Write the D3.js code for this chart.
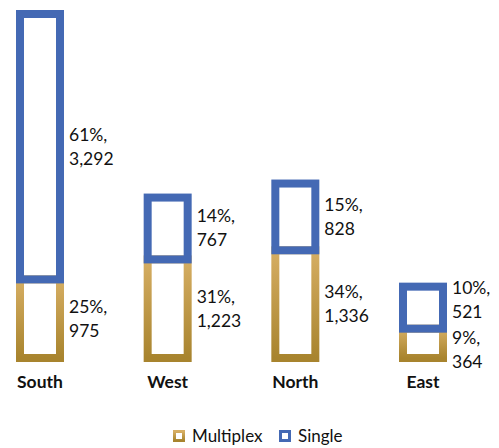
<!DOCTYPE html>
<html>
<head>
<meta charset="utf-8">
<script src="https://cdn.jsdelivr.net/npm/d3@7"></script>
<style>
  body { margin: 0; background: #fff; }
  text { font-family: "Lato", "DejaVu Sans", sans-serif; fill: #111; }
</style>
</head>
<body>
<script>
const regions = ["South", "West", "North", "East"]
const multiplex = [975, 1223, 1336, 364]
const single = [3292, 767, 828, 521]
const multiplexPct = ["25%", "31%", "34%", "9%"]
const singlePct = ["61%", "14%", "15%", "10%"]
const seriesNames = ["Multiplex", "Single"]

const width = 499
const height = 448
const blue = "#4469b4"
const stroke = 8
const barW = 40
const lineH = 24

const svg = d3.select("body").append("svg")
    .attr("width", width)
    .attr("height", height)

const grad = svg.append("defs").append("linearGradient")
    .attr("id", "gold")
    .attr("x1", 0).attr("y1", 0).attr("x2", 0).attr("y2", 1)
grad.append("stop").attr("offset", "0%").attr("stop-color", "#d6ae63")
grad.append("stop").attr("offset", "100%").attr("stop-color", "#a8842e")

const totals = regions.map((r, i) => multiplex[i] + single[i])

const x = d3.scalePoint()
    .domain(regions)
    .range([40, 423])

const y = d3.scaleLinear()
    .domain([0, d3.max(totals)])
    .range([358, 14])

const fmt = d3.format(",")

const data = regions.map((r, i) => ({
    region: r,
    m: multiplex[i], s: single[i],
    mp: multiplexPct[i], sp: singlePct[i]
}))

// multiplex first, single stacked on top
svg.append("g")
  .selectAll("rect")
  .data(data)
  .join("rect")
    .attr("x", d => x(d.region) - barW / 2)
    .attr("y", d => y(d.m))
    .attr("width", barW)
    .attr("height", d => y(0) - y(d.m))
    .attr("fill", "none")
    .attr("stroke", "url(#gold)")
    .attr("stroke-width", stroke)

svg.append("g")
  .selectAll("rect")
  .data(data)
  .join("rect")
    .attr("x", d => x(d.region) - barW / 2)
    .attr("y", d => y(d.m + d.s))
    .attr("width", barW)
    .attr("height", d => y(d.m) - y(d.m + d.s))
    .attr("fill", "none")
    .attr("stroke", blue)
    .attr("stroke-width", stroke)

// label centres, pushed apart when they would overlap
data.forEach(d => {
    d.cm = (y(0) + y(d.m)) / 2
    d.cs = (y(d.m) + y(d.m + d.s)) / 2
    if (d.cm - d.cs < 50) {
        const mid = (d.cm + d.cs) / 2
        d.cs = mid - 25
        d.cm = mid + 25
    }
})

const label = (g, pct, val, c) => g.append("text")
    .attr("font-size", 17.5)
    .call(t => t.append("tspan")
        .attr("x", d => x(d.region) + barW / 2 + stroke / 2 + 5)
        .attr("y", d => d[c] - 6)
        .text(d => d[pct] + ","))
    .call(t => t.append("tspan")
        .attr("x", d => x(d.region) + barW / 2 + stroke / 2 + 5)
        .attr("dy", lineH)
        .text(d => fmt(d[val])))

const lg = svg.append("g").selectAll("g").data(data).join("g")
lg.each(function () {
    const g = d3.select(this)
    label(g, "sp", "s", "cs")
    label(g, "mp", "m", "cm")
})

// category labels
svg.append("g")
  .selectAll("text")
  .data(regions)
  .join("text")
    .attr("x", d => x(d))
    .attr("y", 388)
    .attr("text-anchor", "middle")
    .attr("font-size", 17.5)
    .attr("font-weight", "bold")
    .text(d => d)

// legend
const legend = svg.append("g").attr("transform", "translate(173,430)")
const items = legend.selectAll("g")
  .data(seriesNames)
  .join("g")
    .attr("transform", (d, i) => `translate(${i * 106},0)`)
items.append("rect")
    .attr("x", 1.5).attr("y", 1.5)
    .attr("width", 9).attr("height", 9)
    .attr("fill", "#fff")
    .attr("stroke", (d, i) => i === 0 ? "url(#gold)" : blue)
    .attr("stroke-width", 3)
items.append("text")
    .attr("x", 19)
    .attr("y", 12)
    .attr("font-size", 17)
    .text(d => d)
</script>
</body>
</html>
